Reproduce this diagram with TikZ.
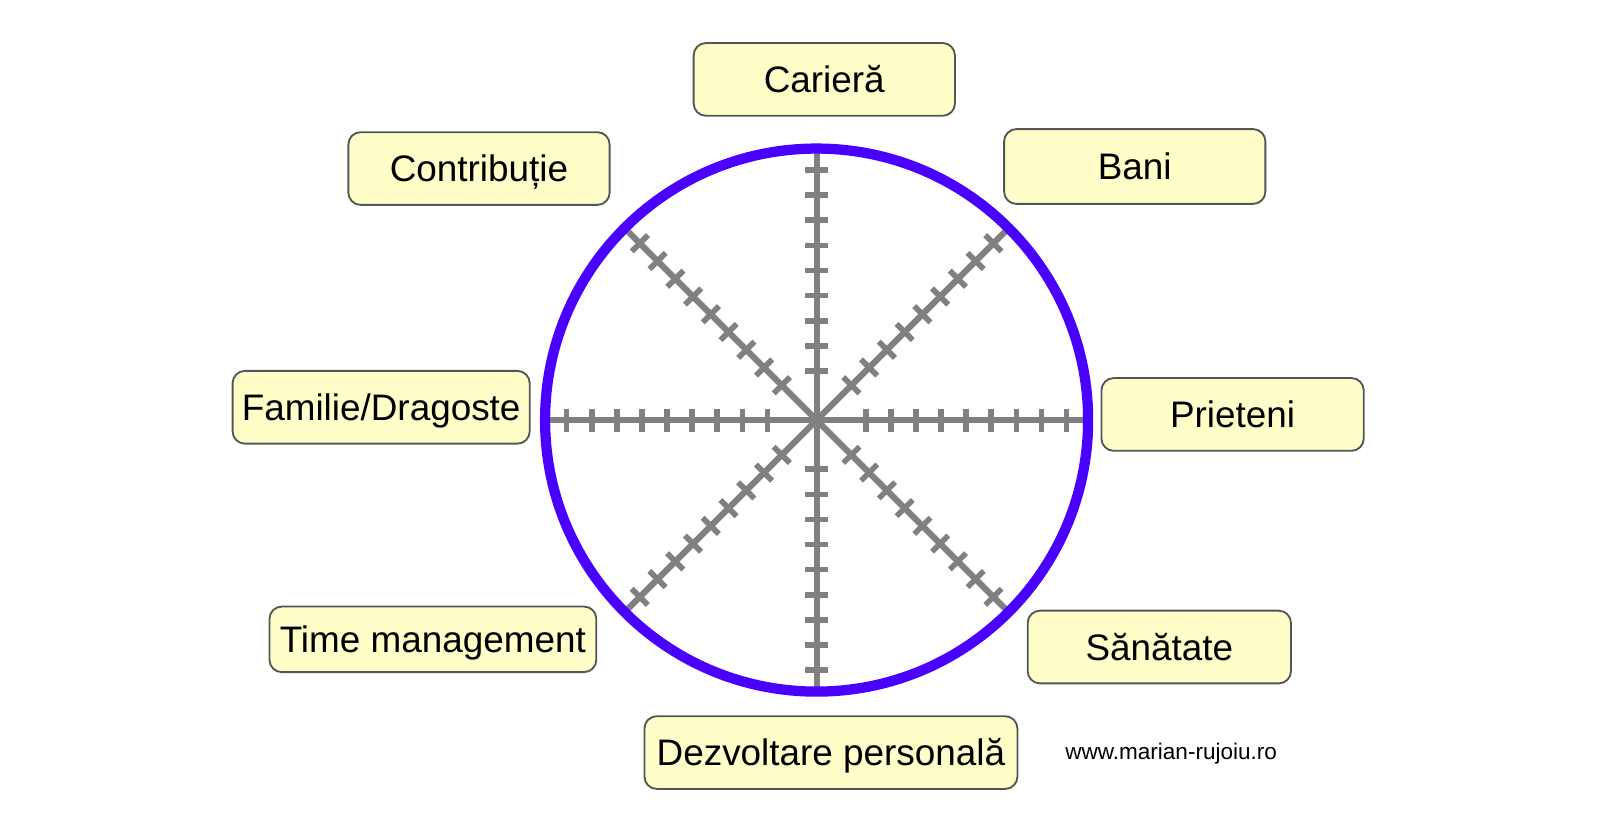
\documentclass[tikz,border=0pt]{standalone}
\usepackage{fontspec}
\setmainfont{Liberation Sans}
\definecolor{boxfill}{HTML}{FFFDC8}
\definecolor{boxline}{HTML}{555555}
\definecolor{rim}{HTML}{4A00FF}
\definecolor{spokecol}{HTML}{808080}
\tikzset{
  label box/.style={draw=boxline, line width=1.8pt, fill=boxfill, rounded corners=12pt,
    inner sep=0pt, minimum height=71pt, text height=26pt, text depth=0pt,
    font=\fontsize{36}{40}\selectfont},
  spoke/.style={draw=spokecol, line width=6pt},
  tickmark/.style={draw=spokecol, line width=5.5pt},
  rimline/.style={draw=rim, line width=10pt},
  site/.style={font=\fontsize{22}{26}\selectfont}
}
\begin{document}
\begin{tikzpicture}[x=1pt,y=-1pt]
\useasboundingbox (0,0) rectangle (1561.6,816);
\coordinate (c) at (797,410);
% spokes
\foreach \a in {0,45,...,315}{
  \draw[spoke] (c) -- ++(\a:262);
  \foreach \k in {0,...,8}{
    \pgfmathsetmacro{\d}{48+24.5*\k}
    \draw[tickmark, shift={(c)}, rotate=\a] (\d,-11.2) -- (\d,11.2);
  }
}
% rim
\draw[rimline] (c) circle (265);
% labels
\node[label box, minimum width=255pt] (cariera) at (804.5,77.5) {Carieră};
\node[label box, minimum width=255pt] (contributie) at (467.5,164.5) {Contribuție};
\node[label box, minimum width=255pt, minimum height=73pt] (bani) at (1107.5,162.5) {Bani};
\node[label box, minimum width=290pt] (familie) at (372,397.5) {Familie/Dragoste};
\node[label box, minimum width=256pt] (prieteni) at (1203,404.5) {Prieteni};
\node[label box, minimum width=319pt, minimum height=64pt] (time) at (422.5,624) {Time management};
\node[label box, minimum width=257pt] (sanatate) at (1131.5,631.5) {Sănătate};
\node[label box, minimum width=364pt] (dezvoltare) at (811,734.5) {Dezvoltare personală};
\node[site] (www) at (1143,736) {www.marian-rujoiu.ro};
\end{tikzpicture}
\end{document}
